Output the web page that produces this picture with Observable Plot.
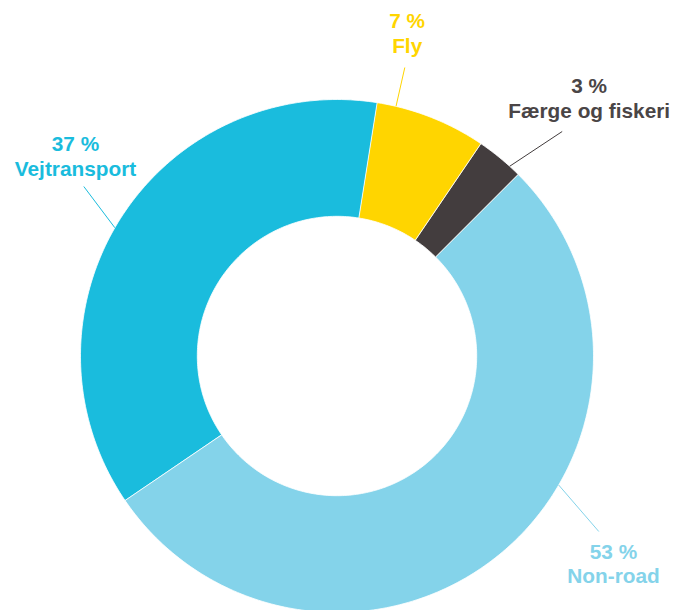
<!DOCTYPE html>
<html><head><meta charset="utf-8">
<script src="https://cdn.jsdelivr.net/npm/d3@7"></script>
<script src="https://cdn.jsdelivr.net/npm/@observablehq/plot@0.6"></script>
<style>body{margin:0;background:#fff} #chart svg{display:block}</style>
</head><body><div id="chart"></div>
<script>
const categories = ["Fly", "Færge og fiskeri", "Non-road", "Vejtransport"];
const shares = [7, 3, 53, 37];
const pctLabels = ["7 %", "3 %", "53 %", "37 %"];
const colors = ["#FFD500", "#433D3E", "#84D3EA", "#1ABCDD"];
const textColors = ["#FFD500", "#4A4546", "#84D3EA", "#1ABCDD"];

const W = 679, H = 610;
const cx = 336.5, cy = 355.5, R = 256.5, r0 = 139.7;
const startDeg = 9;
const rad = Math.PI / 180;

const leaderStartDeg = [13.3, 42.3, 120.2, 300];
const leaderEnd = [[67.8, -288.5], [225.2, -224.5], [261.8, 175.5], [-253.2, -169.5]];
const labelPos = [[70.2, -303.2], [252.2, -238.2], [276.5, 227.2], [-261.5, -180.5]];

const data = categories.map((c, i) => ({name: c, share: shares[i], pct: pctLabels[i], i}));
const arcs = d3.pie().sort(null).value(d => d.share)
  .startAngle(startDeg * rad).endAngle(startDeg * rad + 2 * Math.PI)(data);

const pts = [];
arcs.forEach(a => {
  const n = Math.max(10, Math.ceil((a.endAngle - a.startAngle) / rad));
  for (let k = 0; k <= n; k++) {
    const t = a.startAngle + (a.endAngle - a.startAngle) * k / n;
    pts.push({name: a.data.name, x: R * Math.sin(t), y: -R * Math.cos(t)});
  }
  for (let k = n; k >= 0; k--) {
    const t = a.startAngle + (a.endAngle - a.startAngle) * k / n;
    pts.push({name: a.data.name, x: r0 * Math.sin(t), y: -r0 * Math.cos(t)});
  }
});

const leaders = data.map((d, i) => ({
  name: d.name,
  x1: R * Math.sin(leaderStartDeg[i] * rad), y1: -R * Math.cos(leaderStartDeg[i] * rad),
  x2: leaderEnd[i][0], y2: leaderEnd[i][1]
}));
const labels = data.map((d, i) => ({
  name: d.name, text: d.pct + "\n" + d.name, x: labelPos[i][0], y: labelPos[i][1], tc: textColors[i]
}));

const chart = Plot.plot({
  width: W, height: H,
  margin: 0,
  x: {domain: [-cx, W - cx], range: [0, W], axis: null},
  y: {domain: [-cy, H - cy], range: [0, H], axis: null},
  color: {domain: categories, range: colors},
  style: {fontFamily: "'Liberation Sans', Arial, sans-serif"},
  marks: [
    Plot.line(pts, {x: "x", y: "y", z: "name", fill: "name", stroke: "white", strokeWidth: 0.8, curve: "linear-closed"}),
    Plot.link(leaders, {x1: "x1", y1: "y1", x2: "x2", y2: "y2", stroke: "name", strokeWidth: 1}),
    Plot.text(labels, {x: "x", y: "y", text: "text", fill: "tc", lineAnchor: "bottom", lineHeight: 1.18, fontSize: 20.8, fontWeight: "bold", textAnchor: "middle"})
  ]
});
document.getElementById("chart").append(chart);
</script>
</body></html>
